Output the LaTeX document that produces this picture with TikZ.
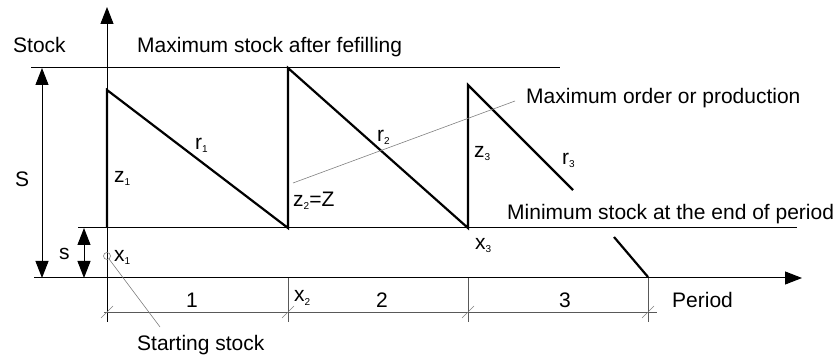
\documentclass[tikz,border=0pt]{standalone}
\usepackage{fontspec}
\setmainfont{Liberation Sans}
\usetikzlibrary{arrows.meta}
\newcommand\subs[1]{\raisebox{-3pt}{\fontsize{10}{10}\selectfont #1}}
\begin{document}
\begin{tikzpicture}[x=1pt,y=-1pt,
  thinline/.style={line width=1pt,black},
  saw/.style={line width=2.2pt,black,line join=miter},
  lead/.style={line width=0.6pt,black!50},
  dimln/.style={line width=0.8pt,black!65},
  lbl/.style={anchor=base west,inner sep=0pt,font=\fontsize{21}{24}\selectfont},
  tipend/.style={-{Triangle[length=17pt,width=13pt]}},
  tipboth/.style={{Triangle[length=17pt,width=13pt]}-{Triangle[length=17pt,width=13pt]}},
  ]
\useasboundingbox (0,0) rectangle (838,363);
% key coordinates
\coordinate (ybot) at (107,322);
\coordinate (ytop) at (107,7);
\coordinate (xl) at (34,278);
\coordinate (xr) at (802,278);
\coordinate (maxl) at (31,68);
\coordinate (maxr) at (560,68);
\coordinate (minl) at (78,228);
\coordinate (minr) at (797,228);
\coordinate (a0) at (107,228);
\coordinate (a1) at (107,90);
\coordinate (a2) at (288,228);
\coordinate (a3) at (288,68);
\coordinate (a4) at (468,228);
\coordinate (a5) at (468,85);
\coordinate (a6) at (573,190);
\coordinate (b0) at (614,237);
\coordinate (b1) at (648,277);
\coordinate (Sa) at (42,68);
\coordinate (Sb) at (42,278);
\coordinate (sa) at (84,228);
\coordinate (sb) at (84,278);
\coordinate (dl) at (104,312);
\coordinate (dr) at (657,312);
\coordinate (start) at (107,256);
\coordinate (startlead) at (160,327);
\coordinate (mol) at (293,183);
\coordinate (mor) at (515,101);
% axes
\draw[thinline,tipend] (ybot) -- (ytop);
\draw[thinline,tipend] (xl) -- (xr);
% max / min levels
\draw[thinline] (maxl) -- (maxr);
\draw[thinline] (minl) -- (minr);
% sawtooth
\draw[saw] (a0) -- (a1) -- (a2) -- (a3) -- (a4) -- (a5) -- (a6);
\draw[saw] (b0) -- (b1);
% S and s dimensions
\draw[thinline,tipboth] (Sa) -- (Sb);
\draw[thinline,tipboth] (sa) -- (sb);
% period dimension line
\foreach \x in {288,468,648} \draw[dimln] (\x,278) -- (\x,322);
\draw[dimln] (dl) -- (dr);
\foreach \x in {107,288,468,648} \draw[line width=0.5pt,black!50] (\x-6,318) -- (\x+6,306);
% leaders
\draw[lead] (start) circle (3.5);
\draw[lead] (109,259) -- (startlead);
\draw[lead] (mol) -- (mor);
% labels
\node[lbl] (tstock) at (13,53) {Stock};
\node[lbl] (tmax) at (137,53) {Maximum stock after fefilling};
\node[lbl] (tmo) at (526,104) {Maximum order or production};
\node[lbl] (tmin) at (507,220) {Minimum stock at the end of period};
\node[lbl] (tper) at (672,308) {Period};
\node[lbl] (tS) at (15,187) {S};
\node[lbl] (ts) at (59,260) {s};
\node[lbl] (tz1) at (114,183) {z\subs{1}};
\node[lbl] (tr1) at (195,150) {r\subs{1}};
\node[lbl] (tx1) at (114,262) {x\subs{1}};
\node[lbl] (t1) at (186,308) {1};
\node[lbl] (tx2) at (294,302) {x\subs{2}};
\node[lbl] (t2) at (376,308) {2};
\node[lbl] (t3) at (559,308) {3};
\node[lbl] (tz2) at (293,207) {z\subs{2}=Z};
\node[lbl] (tr2) at (377,142) {r\subs{2}};
\node[lbl] (tz3) at (474,158) {z\subs{3}};
\node[lbl] (tr3) at (562,165) {r\subs{3}};
\node[lbl] (tx3) at (475,250) {x\subs{3}};
\node[lbl] (tstart) at (137,350) {Starting stock};
\end{tikzpicture}
\end{document}
